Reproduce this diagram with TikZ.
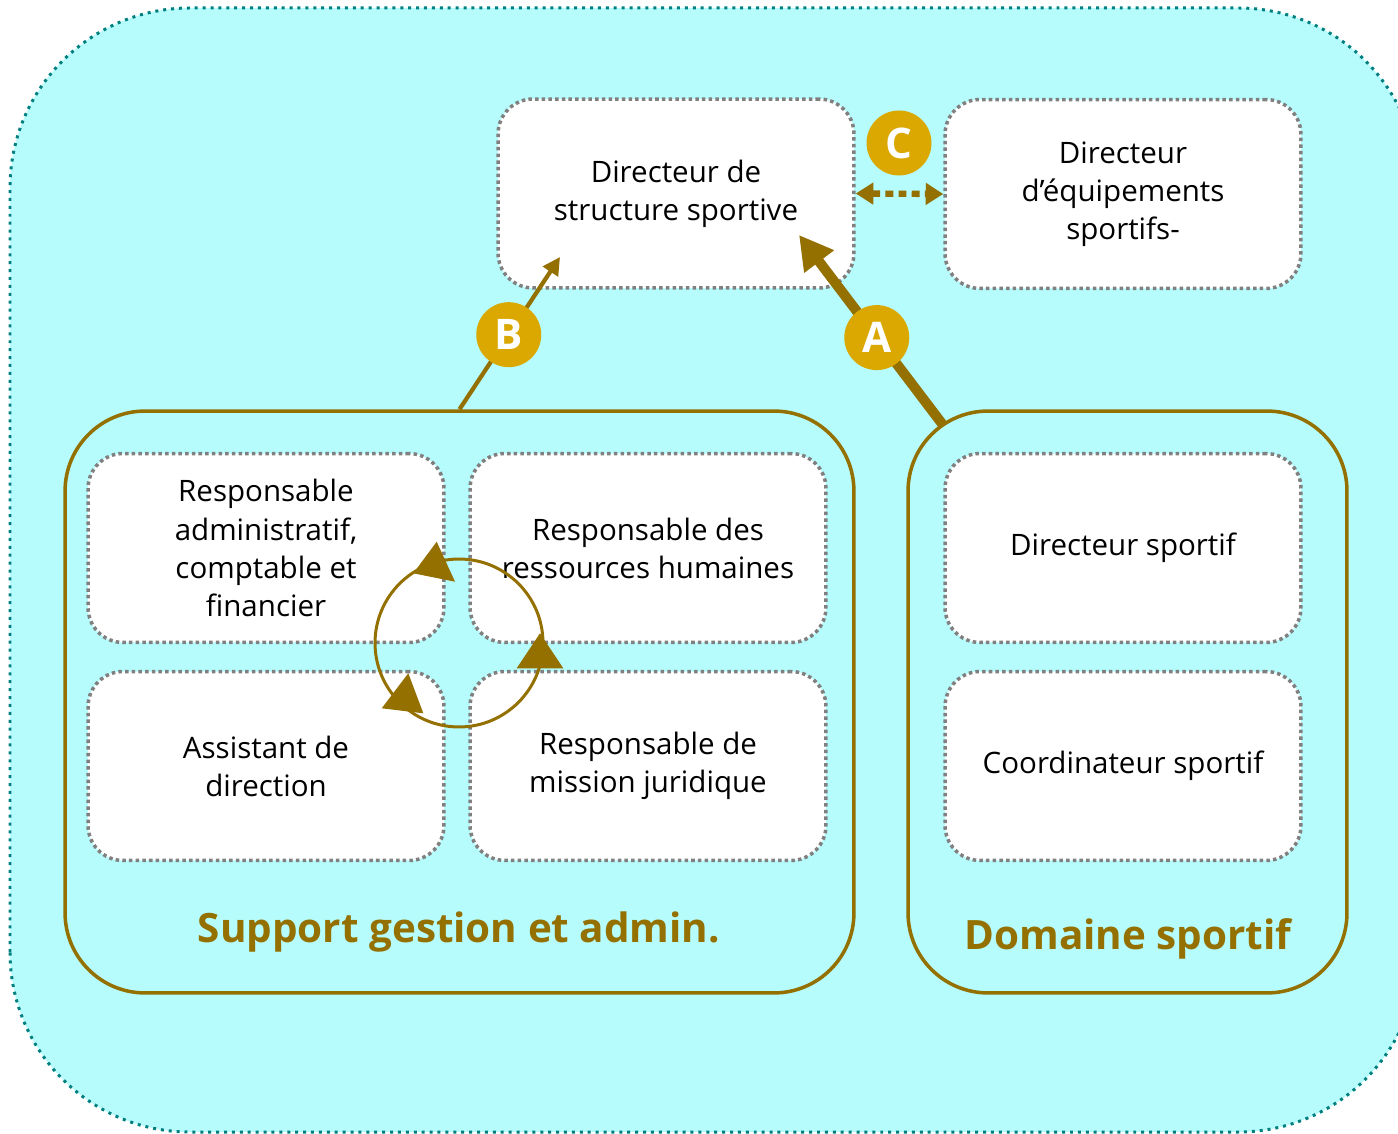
\documentclass[tikz,border=0pt]{standalone}
\usepackage{fontspec}
\setmainfont{Open Sans}
\usetikzlibrary{arrows.meta}

\definecolor{bgcyan}{HTML}{B7FCFC}
\definecolor{framecol}{HTML}{007F7F}
\definecolor{ochre}{HTML}{937000}
\definecolor{gold}{HTML}{DAA800}
\definecolor{boxgray}{HTML}{808080}

\begin{document}
\begin{tikzpicture}[x=0.02cm, y=0.02cm,
  box/.style={draw=boxgray, fill=white, line width=2pt, dash pattern=on 2pt off 1.8pt,
    rounded corners=0.7cm, minimum width=7.12cm, minimum height=3.78cm, align=center,
    font=\fontsize{16.8}{21.7}\selectfont},
  group/.style={draw=ochre, line width=2pt, rounded corners=1.6cm, minimum height=11.64cm},
  grouplabel/.style={text=ochre, font=\fontsize{23}{27}\selectfont\bfseries},
  badge/.style={circle, fill=gold, minimum size=1.3cm, inner sep=0pt, text=white,
    font=\fontsize{24}{24}\selectfont\bfseries},
  cyclering/.style={draw=ochre, circle, line width=1.7pt, minimum size=3.36cm, inner sep=0pt},
  link/.style={draw=ochre}
]
\useasboundingbox (0,0) rectangle (1398,1133);
\clip (0,0) rectangle (1398,1133);

% background
\draw[draw=framecol, fill=bgcyan, line width=1.7pt, dash pattern=on 1.7pt off 2.8pt,
  rounded corners=3.6cm] (10,1) rectangle (1418,1125);

% the two groups
\node[group, minimum width=15.78cm] (support) at (459.5,431) {};
\node[group, minimum width=8.78cm] (domaine) at (1127.5,431) {};
\node[grouplabel] (supportlbl) at (459,201) {Support gestion et admin.};
\node[grouplabel] (domainelbl) at (1128,194) {Domaine sportif};

% boxes
\node[box] (dirstruct) at (676,939.5) {Directeur de\\structure sportive};
\node[box] (direquip) at (1123,939) {Directeur\\d’équipements\\sportifs-};
\node[box] (respadmin) at (266,585) {Responsable\\administratif,\\comptable et\\financier};
\node[box] (resprh) at (648,585) {Responsable des\\ressources humaines};
\node[box] (assistant) at (266,367) {Assistant de\\direction};
\node[box] (respjur) at (648,367) {Responsable de\\mission juridique};
\node[box] (dirsport) at (1123,585) {Directeur sportif};
\node[box] (coordsport) at (1123,367) {Coordinateur sportif};

% cycle between the four boxes
\node[cyclering] (cycle) at (459,490) {};
\fill[ochre] (436.7,591.3) -- (413.3,559.7) -- (455,551.3) -- cycle;
\fill[ochre] (540,499.7) -- (516.7,464.7) -- (563.3,464.7) -- cycle;
\fill[ochre] (408.3,459.7) -- (381.7,424.7) -- (423.3,419.7) -- cycle;

% links
\coordinate (bend) at (560,876);
\coordinate (astart) at (943,708);
\coordinate (aend) at (799,898);
\draw[link, line width=2.4pt, -{Triangle[length=10pt,width=10pt]}] (support.north) -- node[badge, pos=0.49] (badgeB) {B} (bend);
\draw[link, line width=5.7pt, -{Triangle[length=19pt,width=20pt]}] (astart) -- node[badge, pos=0.46] (badgeA) {A} (aend);
\draw[link, line width=3.6pt, dash pattern=on 4.5pt off 3pt,
  {Triangle[length=10pt,width=12pt]}-{Triangle[length=10pt,width=12pt]}] (dirstruct.east) -- (direquip.west);
\node[badge] (badgeC) at (899,990) {C};
\end{tikzpicture}
\end{document}
